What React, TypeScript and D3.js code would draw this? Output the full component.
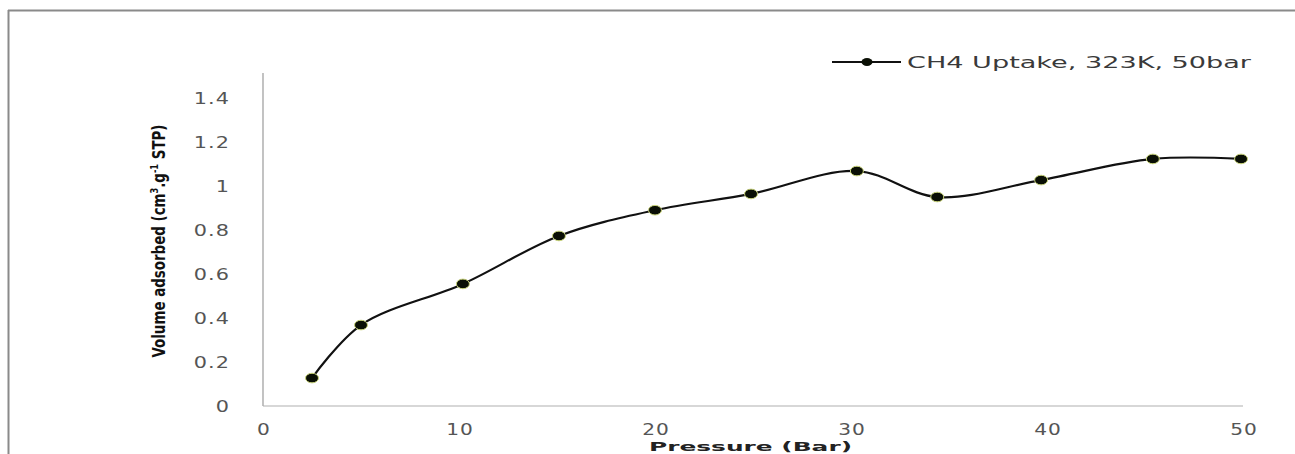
import React, { useEffect, useRef } from "react";
import * as d3 from "d3";

const pressure = [2.5, 5, 10.2, 15.1, 20, 24.9, 30.3, 34.4, 39.7, 45.4, 49.9];
const uptake = [0.127, 0.368, 0.555, 0.773, 0.89, 0.964, 1.068, 0.95, 1.027, 1.123, 1.123];
const xTicks = [0, 10, 20, 30, 40, 50];
const yTicks = [0, 0.2, 0.4, 0.6, 0.8, 1, 1.2, 1.4];
const seriesName = "CH4 Uptake, 323K, 50bar";

export default function App() {
  const ref = useRef<SVGSVGElement>(null);

  useEffect(() => {
    draw();
  }, []);

  let draw = () => {
    const svg = d3.select(ref.current);
    svg.selectAll("*").remove();

    const left = 263;
    const right = 1243;
    const top = 76;
    const bottom = 406;
    const font = "'DejaVu Sans', Verdana, sans-serif";

    // outer frame
    svg.append("line").attr("x1", 8.5).attr("x2", 8.5).attr("y1", 10).attr("y2", 454)
      .attr("stroke", "#8a8a8a").attr("stroke-width", 2);
    svg.append("line").attr("x1", 8).attr("x2", 1295).attr("y1", 10.5).attr("y2", 10.5)
      .attr("stroke", "#8a8a8a").attr("stroke-width", 2);

    const x = d3.scaleLinear().domain([0, 50]).range([left, right]);
    const y = d3.scaleLinear().domain([0, 1.5]).range([bottom, top]);

    // axes
    svg.append("line").attr("x1", left).attr("x2", left).attr("y1", 73).attr("y2", bottom)
      .attr("stroke", "#9a9a9a").attr("stroke-width", 1.2);
    svg.append("line").attr("x1", left).attr("x2", right).attr("y1", bottom).attr("y2", bottom)
      .attr("stroke", "#b0b0b0").attr("stroke-width", 1.2);

    svg.selectAll(".ytick").data(yTicks).enter().append("text")
      .attr("transform", (d) => `translate(230,${y(d)}) scale(1.3,1)`)
      .attr("dy", "0.36em")
      .attr("text-anchor", "end").attr("font-family", font).attr("font-size", 16)
      .attr("letter-spacing", 0.8)
      .attr("fill", "#555").text((d) => d3.format("~g")(d));

    svg.selectAll(".xtick").data(xTicks).enter().append("text")
      .attr("transform", (d) => `translate(${x(d) + 1},435) scale(1.3,1)`)
      .attr("text-anchor", "middle").attr("font-family", font).attr("font-size", 15.5)
      .attr("letter-spacing", 0.8)
      .attr("fill", "#555").text((d) => d);

    // axis titles
    svg.append("text").attr("x", 649).attr("y", 450.5)
      .attr("font-family", font).attr("font-weight", "bold").attr("font-size", 13)
      .attr("textLength", 203).attr("lengthAdjust", "spacingAndGlyphs")
      .attr("fill", "#222").text("Pressure (Bar)");

    const yl = svg.append("text")
      .attr("transform", "translate(165,241) rotate(-90)")
      .attr("text-anchor", "middle")
      .attr("font-family", "'Liberation Sans Narrow', 'DejaVu Sans Condensed', sans-serif")
      .attr("font-weight", "bold").attr("font-size", 18).attr("fill", "#111")
      .attr("textLength", 233).attr("lengthAdjust", "spacingAndGlyphs");
    yl.append("tspan").text("Volume adsorbed (cm");
    yl.append("tspan").attr("dy", -7).attr("font-size", 11).text("3");
    yl.append("tspan").attr("dy", 7).text(".g");
    yl.append("tspan").attr("dy", -7).attr("font-size", 11).text("-1");
    yl.append("tspan").attr("dy", 7).text(" STP)");

    const data = pressure.map((p, i) => ({ p, v: uptake[i] }));

    const line = d3.line<{ p: number; v: number }>()
      .x((d) => x(d.p)).y((d) => y(d.v))
      .curve(d3.curveCatmullRom.alpha(0.5));

    svg.append("path").datum(data).attr("d", line).attr("fill", "none")
      .attr("stroke", "#111").attr("stroke-width", 2.2);

    svg.selectAll(".pt").data(data).enter().append("ellipse")
      .attr("cx", (d) => x(d.p)).attr("cy", (d) => y(d.v))
      .attr("rx", 6.5).attr("ry", 4.8)
      .attr("fill", "#0a0f05").attr("stroke", "#c9d47a").attr("stroke-width", 1);

    // legend
    svg.append("line").attr("x1", 832).attr("x2", 901).attr("y1", 62).attr("y2", 62)
      .attr("stroke", "#111").attr("stroke-width", 2.2);
    svg.append("ellipse").attr("cx", 867).attr("cy", 62).attr("rx", 5.5).attr("ry", 4)
      .attr("fill", "#0a0f05");
    svg.append("text").attr("x", 907).attr("y", 62).attr("dy", "0.36em")
      .attr("font-family", font).attr("font-size", 16.5).attr("fill", "#3a3a3a")
      .attr("textLength", 344).attr("lengthAdjust", "spacingAndGlyphs")
      .text(seriesName);
  };

  return (
    <svg ref={ref} width={1295} height={454}
      style={{ position: "absolute", left: 0, top: 0, background: "#fff" }} />
  );
}
